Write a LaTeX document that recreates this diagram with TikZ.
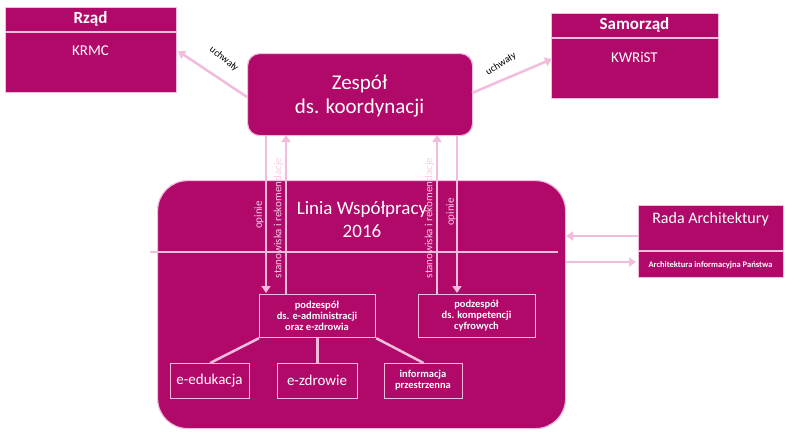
\documentclass[tikz,border=0pt]{standalone}
\usepackage{fontspec}
\setmainfont{Carlito}
\usetikzlibrary{arrows.meta}
\definecolor{mag}{HTML}{B0096A}
\definecolor{pk}{HTML}{F2BCDC}
\definecolor{lt}{HTML}{F5D0E6}
\begin{document}
\begin{tikzpicture}[x=1pt,y=-1pt,
 box/.style={draw=pk,fill=mag,line width=1.2pt},
 sub/.style={draw=pk,fill=none,line width=1.2pt},
 arr/.style={draw=pk,line width=2.5pt,-{Triangle[length=7pt,width=9pt]}},
 ln/.style={draw=pk,line width=2.5pt},
 wt/.style={text=white,font=#1},
 wt/.default=\small,
 lab/.style={text=lt,font=\fontsize{11}{13}\selectfont,rotate=90,inner sep=0pt}]
\useasboundingbox (0,0) rectangle (800,439);
% Rzad
\node[box,minimum width=171pt,minimum height=85pt,anchor=north west] (rzad) at (5,7) {};
\draw[pk,line width=1.2pt] (5,32) -- (176,32);
\node[wt=\bfseries\fontsize{17}{19}\selectfont] (rzt) at (90.5,19) {Rząd};
\node[wt=\fontsize{15}{17}\selectfont] (krmc) at (90.5,51) {KRMC};
% Samorzad
\node[box,minimum width=167pt,minimum height=85pt,anchor=north west] (sam) at (551,13) {};
\draw[pk,line width=1.2pt] (551,38) -- (718,38);
\node[wt=\bfseries\fontsize{17}{19}\selectfont] (samt) at (634.5,25) {Samorząd};
\node[wt=\fontsize{15}{17}\selectfont] (kwr) at (634.5,57) {KWRiST};
% Zespol
\node[box,rounded corners=12pt,minimum width=225pt,minimum height=82pt,anchor=north west] (zes) at (247,53) {};
\node[wt=\fontsize{21}{24}\selectfont,align=center] (zest) at (359.5,96) {Zespół\\ds. koordynacji};
\coordinate (zl) at (247,97); \coordinate (rzd) at (178,51);
\coordinate (zr) at (472,93); \coordinate (smd) at (552,59);
\draw[arr] (zl) -- (rzd);
\draw[arr] (zr) -- (smd);
\node[text=black,font=\fontsize{10}{12}\selectfont,rotate=-38,inner sep=0pt] (u1) at (224,59) {uchwały};
\node[text=black,font=\fontsize{10}{12}\selectfont,rotate=32,inner sep=0pt] (u2) at (501,64) {uchwały};
% Big box
\node[box,rounded corners=30pt,minimum width=408pt,minimum height=248pt,anchor=north west] (big) at (157,180) {};
\coordinate (dl) at (150,252); \coordinate (dr) at (558,252);
\draw[pk,line width=1.2pt] (dl) -- (dr);
\node[wt=\fontsize{19}{23}\selectfont,align=center] (lin) at (362,219) {Linia Współpracy\\2016};
% Rada
\node[box,minimum width=145pt,minimum height=72pt,anchor=north west] (rada) at (638,205) {};
\draw[pk,line width=1.2pt] (638,251) -- (783,251);
\node[wt=\fontsize{16}{18}\selectfont] (radt) at (710.5,219) {Rada Architektury};
\node[wt=\bfseries\fontsize{8.5}{10}\selectfont] (aip) at (710.5,265) {Architektura informacyjna Państwa};
\coordinate (ra1) at (638,236); \coordinate (bb1) at (566,236);
\coordinate (ra2) at (636,262); \coordinate (bb2) at (566,262);
\draw[arr] (ra1) -- (bb1);
\draw[arr] (bb2) -- (ra2);
% podzespoly
\node[sub,minimum width=116pt,minimum height=43pt,anchor=north west] (p1) at (259,294) {};
\node[wt=\bfseries\fontsize{10.5}{11}\selectfont,align=center] (p1t) at (317,315.5) {podzespół\\ds. e-administracji\\oraz e-zdrowia};
\node[sub,minimum width=117pt,minimum height=43pt,anchor=north west] (p2) at (418,294) {};
\node[wt=\bfseries\fontsize{10.5}{11}\selectfont,align=center] (p2t) at (476.5,315.5) {podzespół\\ds. kompetencji\\cyfrowych};
% vertical arrows
\coordinate (a1t) at (266,135); \coordinate (a1b) at (266,293);
\coordinate (a2t) at (286,135); \coordinate (a2b) at (286,294);
\coordinate (a3t) at (437,135); \coordinate (a3b) at (437,294);
\coordinate (a4t) at (457,135); \coordinate (a4b) at (457,293);
\draw[arr] (a1t) -- (a1b);
\draw[arr] (a2b) -- (a2t);
\draw[arr] (a3b) -- (a3t);
\draw[arr] (a4t) -- (a4b);
\node[lab] (o1) at (259,215) {opinie};
\node[lab] (s1) at (278.5,218) {stanowiska i rekomendacje};
\node[lab] (s2) at (429.5,218) {stanowiska i rekomendacje};
\node[lab] (o2) at (451,212) {opinie};
% bottom
\node[sub,minimum width=79pt,minimum height=35pt,anchor=north west] (ee) at (170,363) {};
\node[wt=\fontsize{15}{17}\selectfont] (eet) at (209.5,380.5) {e-edukacja};
\node[sub,minimum width=80pt,minimum height=35pt,anchor=north west] (ez) at (277,363) {};
\node[wt=\fontsize{15}{17}\selectfont] (ezt) at (317,380.5) {e-zdrowie};
\node[sub,minimum width=78pt,minimum height=35pt,anchor=north west] (ip) at (384,363) {};
\node[wt=\bfseries\fontsize{10.5}{11}\selectfont,align=center] (ipt) at (423,380.5) {informacja\\przestrzenna};
\draw[ln] (p1.south west) -- (ee.north);
\draw[ln] (p1.south) -- (ez.north);
\draw[ln] (p1.south east) -- (ip.north);
\end{tikzpicture}
\end{document}
